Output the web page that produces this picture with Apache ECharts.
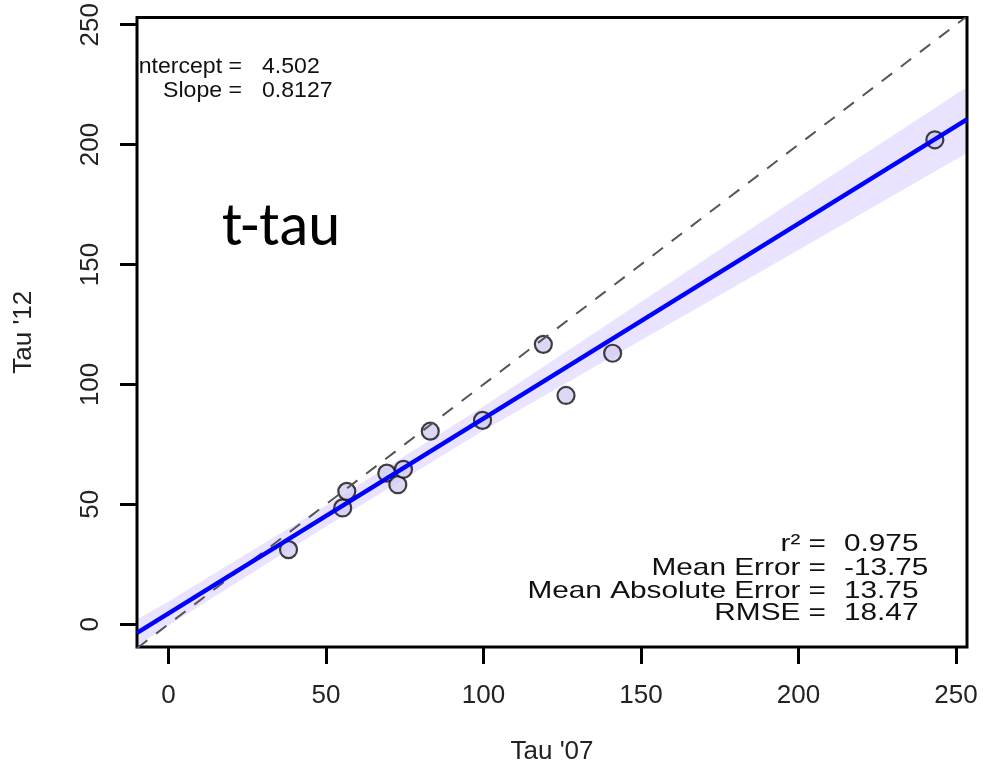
<!DOCTYPE html>
<html>
<head>
<meta charset="utf-8">
<script src="https://cdn.jsdelivr.net/npm/echarts@6/dist/echarts.min.js"></script>
<style>
html,body{margin:0;padding:0;background:#fff;}
#chart{width:983px;height:770px;}
</style>
</head>
<body>
<div id="chart"></div>
<script>
// ---- data ----
const tau07 = [38.1, 55.3, 56.6, 69.3, 72.8, 74.6, 83.1, 99.7, 119.0, 126.2, 141.0, 243.3];
const tau12 = [31.1, 48.5, 55.4, 63.0, 58.2, 64.6, 80.5, 85.0, 116.7, 95.4, 113.0, 202.0];
const fitX = [-10, 253.5];
const fitY = [-3.6, 210.5];
const identX = [-10, 253];
const identY = [-10, 253];
const bandX = [-10, 0, 50, 100, 150, 200, 253.5];
const bandLower = [-9.0, -0.5, 40.7, 80.8, 118.4, 156.0, 196.5];
const bandUpper = [2.0, 9.5, 49.5, 90.8, 134.4, 178.0, 224.0];
const xTicks = [0, 50, 100, 150, 200, 250];
const yTicks = [0, 50, 100, 150, 200, 250];
const xRange = [-10, 253.5];
const yRange = [-9.5, 253];
const fitLabels = ['Intercept =', 'Slope ='];
const fitValues = ['4.502', '0.8127'];
const statLabels = ['r\u00B2 =', 'Mean Error =', 'Mean Absolute Error =', 'RMSE ='];
const statValues = ['0.975', '-13.75', '13.75', '18.47'];
const panelTitle = 't-tau';
const xName = "Tau '07";
const yName = "Tau '12";

const chart = echarts.init(document.getElementById('chart'));
const FONT = '"Liberation Sans", Arial, Helvetica, sans-serif';

const points = tau07.map((x, i) => [x, tau12[i]]);
const fitLine = fitX.map((x, i) => [x, fitY[i]]);
const identLine = identX.map((x, i) => [x, identY[i]]);

const graphics = [];
const fitBaseY = [67, 91];
fitLabels.forEach((t, i) => {
  graphics.push({type:'text', x:242, y:fitBaseY[i], scaleX:1.05, z:1,
    style:{text:t, align:'right', verticalAlign:'middle', fontSize:22, fontFamily:FONT, fill:'#111'}});
  graphics.push({type:'text', x:262, y:fitBaseY[i], scaleX:1.05, z:1,
    style:{text:fitValues[i], align:'left', verticalAlign:'middle', fontSize:22, fontFamily:FONT, fill:'#111'}});
});
graphics.push({type:'rect', shape:{x:0, y:50, width:137.5, height:60}, z:2,
  style:{fill:'#fff'}});
const statBaseY = [544, 568, 591, 613];
statLabels.forEach((t, i) => {
  graphics.push({type:'text', x:826, y:statBaseY[i], scaleX:1.24, z:1,
    style:{text:t, align:'right', verticalAlign:'middle', fontSize:24, fontFamily:FONT, fill:'#111'}});
  graphics.push({type:'text', x:844, y:statBaseY[i], scaleX:1.24, z:1,
    style:{text:statValues[i], align:'left', verticalAlign:'middle', fontSize:24, fontFamily:FONT, fill:'#111'}});
});
graphics.push({type:'text', x:222, y:230, z:1,
  style:{text:panelTitle, align:'left', verticalAlign:'middle', fontSize:61, fontFamily:'Carlito, Calibri, "Open Sans", sans-serif', fill:'#000'}});

const option = {
  animation: false,
  backgroundColor: '#fff',
  grid: {left:137, right:16, top:17, bottom:123, show:true, borderColor:'#000', borderWidth:3, backgroundColor:'transparent', z:3},
  xAxis: {
    type:'value', min:xRange[0], max:xRange[1],
    name:xName, nameLocation:'middle', nameGap:92,
    nameTextStyle:{fontSize:26, fontFamily:FONT, color:'#222'},
    axisLine:{show:false, onZero:false},
    splitLine:{show:false},
    axisTick:{show:true, inside:false, length:17, lineStyle:{color:'#000', width:3}, customValues:xTicks},
    axisLabel:{fontSize:26, fontFamily:FONT, color:'#222', margin:36, customValues:xTicks}
  },
  yAxis: {
    type:'value', min:yRange[0], max:yRange[1],
    name:yName, nameLocation:'middle', nameGap:100, nameRotate:90,
    nameTextStyle:{fontSize:26, fontFamily:FONT, color:'#222'},
    axisLine:{show:false, onZero:false},
    splitLine:{show:false},
    axisTick:{show:true, inside:false, length:17, lineStyle:{color:'#000', width:3}, customValues:yTicks},
    axisLabel:{fontSize:26, fontFamily:FONT, color:'#222', margin:33, rotate:90, customValues:yTicks}
  },
  graphic: graphics,
  series: [
    {
      type:'custom', z:1, silent:true,
      data:[[0, 0]],
      renderItem: function (params, api) {
        const pts = [];
        for (let i = 0; i < bandX.length; i++) pts.push(api.coord([bandX[i], bandUpper[i]]));
        for (let i = bandX.length - 1; i >= 0; i--) pts.push(api.coord([bandX[i], bandLower[i]]));
        return {type:'polygon', shape:{points:pts}, style:{fill:'#E9E3FF', stroke:null}};
      }
    },
    {
      type:'scatter', z:3, data:points, symbol:'circle', symbolSize:17,
      itemStyle:{color:'#D2CDF2', borderColor:'#111', borderWidth:2.2}
    },
    {
      type:'line', z:4, data:identLine, symbol:'none', clip:true,
      lineStyle:{color:'#555', width:2, type:[13, 11]}
    },
    {
      type:'line', z:5, data:fitLine, symbol:'none', clip:true,
      lineStyle:{color:'#0000FF', width:4.5}
    }
  ]
};
chart.setOption(option);
</script>
</body>
</html>
